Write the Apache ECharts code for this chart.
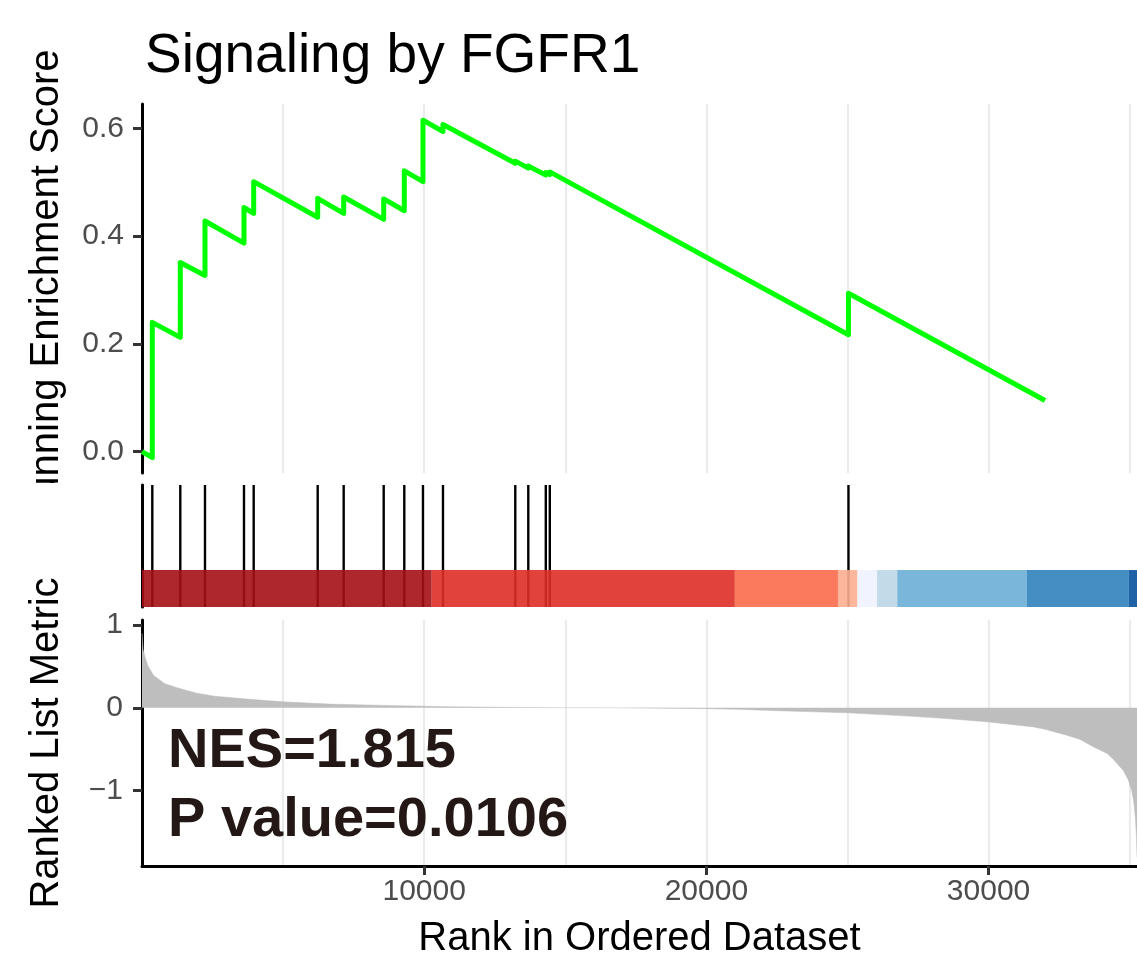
<!DOCTYPE html>
<html>
<head>
<meta charset="utf-8">
<script src="https://cdn.jsdelivr.net/npm/echarts@6/dist/echarts.min.js"></script>
<style>
html,body{margin:0;padding:0;background:#fff;}
#chart{width:1137px;height:965px;}
</style>
</head>
<body>
<div id="chart"></div>
<script>
// ---------------- data ----------------
const chartTitle = 'Signaling by FGFR1';
const esAxisName = 'Running Enrichment Score';
const metricAxisName = 'Ranked List Metric';
const rankAxisName = 'Rank in Ordered Dataset';
const nesText = 'NES=1.815';
const pText = 'P value=0.0106';

// gene-set hit positions in the ranked list
const hitRanks = [365, 1357, 2232, 3614, 3958, 6226, 7147, 8565, 9295, 9957, 10666, 13228, 13689, 14309, 14451, 25035];
// running enrichment score just before and just after each hit
const esBeforeHit = [-0.011, 0.212, 0.327, 0.387, 0.442, 0.435, 0.442, 0.431, 0.447, 0.501, 0.594, 0.535, 0.526, 0.513, 0.514, 0.217];
const esAfterHit  = [0.240, 0.351, 0.428, 0.453, 0.501, 0.470, 0.4725, 0.469, 0.521, 0.615, 0.607, 0.539, 0.530, 0.518, 0.519, 0.294];
const esStartPoint = [0, 0];
const esEndPoint = [32000, 0.095];

// ranked list metric (sampled along the curve)
const metricRanks  = [1, 40, 113, 205, 411, 815, 1222, 1903, 2580, 3935, 5000, 6650, 8680, 10010, 11000, 13000, 15000, 17000, 18230, 20020, 21080, 22530, 24980, 27140, 28500, 30010, 31590, 32000, 32770, 33230, 33710, 34200, 34420, 34780, 34950, 35075, 35150, 35200, 35240, 35260];
const metricValues = [0.90, 0.70, 0.61, 0.51, 0.39, 0.29, 0.245, 0.18, 0.14, 0.10, 0.072, 0.045, 0.029, 0.02, 0.012, 0.006, 0.002, 0.0, -0.004, -0.01, -0.018, -0.035, -0.06, -0.10, -0.13, -0.17, -0.23, -0.26, -0.33, -0.38, -0.47, -0.55, -0.62, -0.76, -0.87, -1.0, -1.15, -1.32, -1.55, -1.80];

// colour bar segments (rank boundaries) and their colours
const barBreaks = [0, 10267, 21009, 24663, 25354, 26048, 26764, 31357, 34972, 35260];
const barColors = ['#A50F15', '#DE2D26', '#FB6A4A', '#FCAE91', '#EFF3FF', '#BDD7E7', '#6BAED6', '#3182BD', '#08519C'];

// axes
const esTicks = [0, 0.2, 0.4, 0.6];
const metricTicks = [-1, 0, 1];
const rankTicks = [10000, 20000, 30000];
const rankMin = 0, rankMax = 35260, rankGridStep = 5000;
const esMin = -0.0395, esMax = 0.645;
const metricMin = -1.909, metricMax = 1.06;

// ---------------- build series data ----------------
const esLine = [esStartPoint];
hitRanks.forEach((r, i) => { esLine.push([r, esBeforeHit[i]]); esLine.push([r, esAfterHit[i]]); });
esLine.push(esEndPoint);
const metricLine = metricRanks.map((r, i) => [r, metricValues[i]]);
const barSegs = barColors.map((c, i) => [barBreaks[i], barBreaks[i + 1], i]);

// ---------------- styles ----------------
const FONT = '"Liberation Sans", Arial, Helvetica, sans-serif';
const gridLineStyle = { color: '#EBEBEB', width: 2.2 };
const axisLineStyle = { color: '#000', width: 3 };
const tickStyle = { color: '#333', width: 3 };
const BAR_TOP = 0.303;

const chart = echarts.init(document.getElementById('chart'), null, { renderer: 'canvas' });

const hiddenAxisParts = { axisLine: { show: false }, axisTick: { show: false }, axisLabel: { show: false } };

const option = {
  animation: false,
  backgroundColor: '#fff',
  title: {
    text: chartTitle, left: 140, top: 24,
    textStyle: { fontFamily: FONT, fontSize: 55, fontWeight: 'normal', color: '#000' }
  },
  grid: [
    { left: 142, right: 0, top: 104, height: 369, outerBoundsMode: 'none' },
    { left: 142, right: 0, top: 485, height: 122, outerBoundsMode: 'none' },
    { left: 142, right: 0, top: 620, height: 246, outerBoundsMode: 'none' }
  ],
  xAxis: [
    Object.assign({ gridIndex: 0, type: 'value', min: rankMin, max: rankMax, interval: rankGridStep,
      splitLine: { show: true, lineStyle: gridLineStyle, showMinLine: false, showMaxLine: false } }, hiddenAxisParts),
    Object.assign({ gridIndex: 1, type: 'value', min: rankMin, max: rankMax, interval: rankGridStep,
      splitLine: { show: false } }, hiddenAxisParts),
    { gridIndex: 2, type: 'value', position: 'bottom', min: rankMin, max: rankMax, interval: rankGridStep,
      axisLine: { show: true, onZero: false, lineStyle: axisLineStyle },
      axisTick: { show: true, length: 9, lineStyle: tickStyle, customValues: rankTicks },
      axisLabel: { show: true, customValues: rankTicks, margin: 11, color: '#4D4D4D', fontSize: 30, fontFamily: FONT,
                   formatter: v => String(Math.round(v)) },
      splitLine: { show: false },
      name: rankAxisName, nameLocation: 'middle', nameGap: 53,
      nameTextStyle: { fontFamily: FONT, fontSize: 40, color: '#000' } },
    // grid lines for the bottom panel (every 5000)
    Object.assign({ gridIndex: 2, type: 'value', position: 'top', min: rankMin, max: rankMax, interval: rankGridStep,
      splitLine: { show: true, lineStyle: gridLineStyle, showMinLine: false, showMaxLine: false } }, hiddenAxisParts)
  ],
  yAxis: [
    { gridIndex: 0, type: 'value', min: esMin, max: esMax,
      axisLine: { show: true, lineStyle: axisLineStyle },
      axisTick: { show: true, length: 9, lineStyle: tickStyle, customValues: esTicks },
      axisLabel: { show: true, customValues: esTicks, margin: 18, color: '#4D4D4D', fontSize: 30, fontFamily: FONT,
                   formatter: v => Number(v).toFixed(1) },
      splitLine: { show: false } },
    { gridIndex: 1, type: 'value', min: 0, max: 1,
      axisLine: { show: true, lineStyle: axisLineStyle },
      axisTick: { show: false }, axisLabel: { show: false }, splitLine: { show: false } },
    { gridIndex: 2, type: 'value', min: metricMin, max: metricMax,
      axisLine: { show: true, onZero: false, lineStyle: axisLineStyle },
      axisTick: { show: true, length: 9, lineStyle: tickStyle, customValues: metricTicks },
      axisLabel: { show: true, customValues: metricTicks, margin: 19, color: '#4D4D4D', fontSize: 30, fontFamily: FONT,
                   formatter: v => (v < 0 ? '\u2212' + Math.abs(v) : String(v)) },
      splitLine: { show: false },
      name: metricAxisName, nameLocation: 'middle', nameRotate: 90, nameGap: 75,
      nameTextStyle: { fontFamily: FONT, fontSize: 40, color: '#000' } }
  ],
  graphic: [
    { type: 'text', left: 168, top: 724, z: 100,
      style: { text: nesText, font: 'bold 56px ' + FONT, fill: '#231815' } },
    { type: 'text', left: 168, top: 793, z: 100,
      style: { text: pText, font: 'bold 56px ' + FONT, fill: '#231815' } }
  ],
  series: [
    { // running enrichment score
      type: 'line', xAxisIndex: 0, yAxisIndex: 0, data: esLine,
      showSymbol: false, symbol: 'none', lineStyle: { color: '#00FF00', width: 5, join: 'round' },
      z: 5
    },
    { // clipped y-axis title for the top panel
      type: 'custom', xAxisIndex: 0, yAxisIndex: 0, clip: false, silent: true, data: [[0, 0]],
      renderItem: function (params, api) {
        const cs = params.coordSys;
        return {
          type: 'group',
          clipPath: { type: 'rect', shape: { x: 0, y: 0, width: cs.x - 2, height: cs.y + cs.height + 10 } },
          children: [{
            type: 'text', x: cs.x - 95, y: cs.y + cs.height / 2, rotation: Math.PI / 2,
            style: { text: esAxisName, font: '40px ' + FONT, fill: '#000',
                     align: 'center', verticalAlign: 'middle', textAlign: 'center', textVerticalAlign: 'middle' }
          }]
        };
      }
    },
    { // hit lines
      type: 'custom', xAxisIndex: 1, yAxisIndex: 1, clip: false, silent: true,
      data: hitRanks.map(r => [r]),
      renderItem: function (params, api) {
        const p0 = api.coord([api.value(0), 0]);
        const p1 = api.coord([api.value(0), 1]);
        return { type: 'line', shape: { x1: p0[0], y1: p0[1], x2: p1[0], y2: p1[1] },
                 style: { stroke: '#000', lineWidth: 2.4 } };
      }, z: 2
    },
    { // colour bar
      type: 'custom', xAxisIndex: 1, yAxisIndex: 1, clip: false, silent: true,
      data: barSegs,
      renderItem: function (params, api) {
        const a = api.coord([api.value(0), BAR_TOP]);
        const b = api.coord([api.value(1), 0]);
        return { type: 'rect', shape: { x: a[0], y: a[1], width: b[0] - a[0], height: b[1] - a[1] },
                 style: { fill: barColors[api.value(2)], opacity: 0.9 } };
      }, z: 3
    },
    { // ranked list metric
      type: 'line', xAxisIndex: 2, yAxisIndex: 2, data: metricLine,
      showSymbol: false, symbol: 'none',
      lineStyle: { color: '#BEBEBE', width: 0.5 },
      areaStyle: { color: '#BEBEBE', opacity: 1, origin: 0 },
      z: 2
    }
  ]
};
chart.setOption(option);
</script>
</body>
</html>
